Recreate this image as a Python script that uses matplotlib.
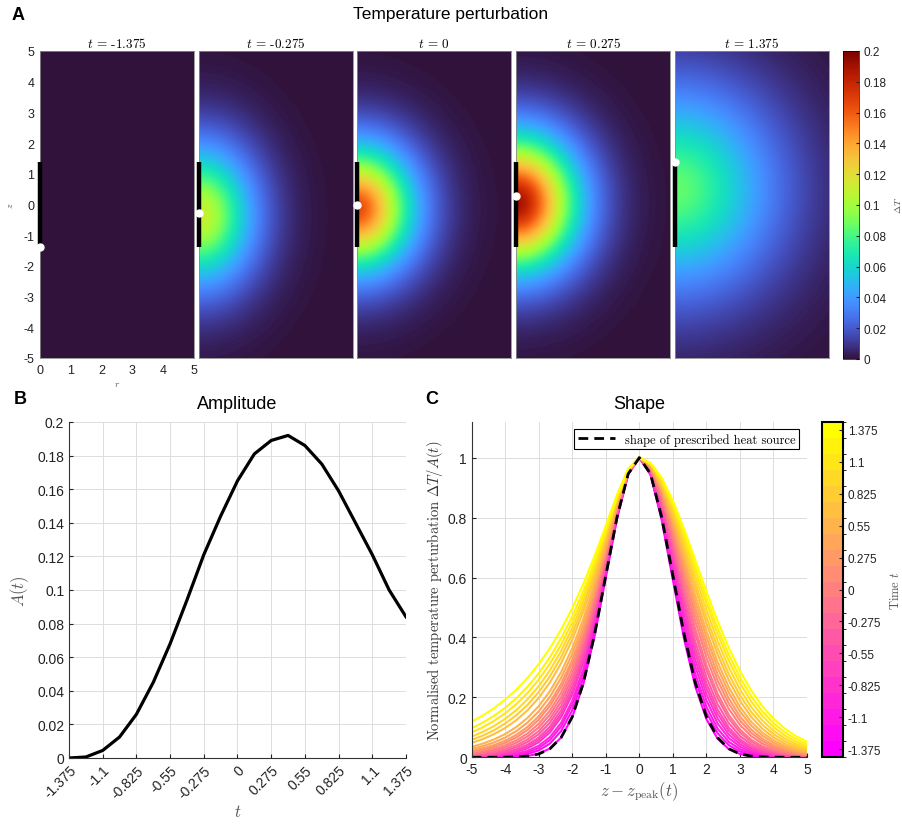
import numpy as np
import matplotlib.pyplot as plt
from matplotlib.colors import ListedColormap, BoundaryNorm
from matplotlib.cm import ScalarMappable

plt.rcParams['font.family'] = ['Liberation Sans', 'DejaVu Sans']
plt.rcParams['mathtext.fontset'] = 'cm'
plt.rcParams['axes.unicode_minus'] = False

W, H = 903, 828

# ---- panel A: snapshots of the field
snap_lbl = ['-1.375', '-0.275', '0', '0.275', '1.375']
snap_src = [-1.375, -0.275, 0.0, 0.275, 1.375]   # white dot, source position
snap_peak = [0.0003, 0.112, 0.165, 0.190, 0.086]
snap_zc = [-1.4, -0.35, -0.13, 0.06, 0.5]
snap_wr = [1.0, 1.72, 1.75, 1.9, 3.1]
snap_wz = [1.2, 2.2, 1.95, 2.1, 3.2]
snap_p = [2.0, 1.8, 1.75, 1.8, 1.8]
src_bot, src_top = -1.375, 1.375

# ---- panel B: amplitude
t = [-1.375, -1.2375, -1.1, -0.9625, -0.825, -0.6875, -0.55, -0.4125, -0.275, -0.1375, 0.0,
     0.1375, 0.275, 0.4125, 0.55, 0.6875, 0.825, 0.9625, 1.1, 1.2375, 1.375]
amp = [0.0, 0.0006, 0.0045, 0.0125, 0.026, 0.045, 0.068, 0.094, 0.121, 0.144, 0.165,
       0.181, 0.189, 0.192, 0.186, 0.175, 0.159, 0.140, 0.121, 0.100, 0.084]
t_ticks = [-1.375, -1.1, -0.825, -0.55, -0.275, 0, 0.275, 0.55, 0.825, 1.1, 1.375]
t_tick_lbl = ['-1.375', '-1.1', '-0.825', '-0.55', '-0.275', '0', '0.275', '0.55', '0.825', '1.1', '1.375']

# ---- panel C: each curve by side: |z| where it drops to 0.8, and its value at |z|=5
core_left = [0.66, 0.66, 0.67, 0.67, 0.68, 0.68, 0.69, 0.69, 0.70, 0.70, 0.71,
             0.72, 0.72, 0.73, 0.74, 0.75, 0.76, 0.77, 0.77, 0.78, 0.79]
tail_left = [0.00001, 0.0002, 0.0005, 0.001, 0.002, 0.003, 0.004, 0.006, 0.008, 0.011, 0.014,
             0.018, 0.022, 0.028, 0.035, 0.048, 0.058, 0.069, 0.083, 0.097, 0.119]
core_right = [0.65, 0.66, 0.67, 0.69, 0.71, 0.73, 0.75, 0.77, 0.80, 0.82, 0.85,
              0.88, 0.91, 0.94, 0.97, 1.01, 1.04, 1.08, 1.12, 1.15, 1.19]
tail_right = [0.00001, 0.0001, 0.0003, 0.0006, 0.001, 0.0015, 0.002, 0.003, 0.004, 0.005, 0.007,
              0.009, 0.011, 0.014, 0.017, 0.021, 0.026, 0.031, 0.037, 0.044, 0.052]
src_sigma = 1.0


def box(x0, y0, x1, y1):
    return [x0 / W, 1 - y1 / H, (x1 - x0) / W, (y1 - y0) / H]


def side(x, z80, tail):
    # gaussian core, exponential-like flank: exp(-b*(sqrt(1+(x/a)^2)-1))
    s2 = (z80 / np.sqrt(2 * np.log(1 / 0.8))) ** 2
    L = np.log(1 / tail)
    if L >= 12.5 / s2:
        return np.exp(-x ** 2 / (2 * s2))
    lo, hi = 1e-3, 1e3
    for _ in range(80):
        a = np.sqrt(lo * hi)
        if 25 * a / (np.sqrt(a * a + 25) + a) / s2 < L:
            lo = a
        else:
            hi = a
    b = a * a / s2
    return np.exp(-b * (np.sqrt(1 + (x / a) ** 2) - 1))


fig = plt.figure(figsize=(W / 100, H / 100), dpi=100)
serif = 'cmr10'
grey = '#555555'

fig.text(18 / W, 1 - 16 / H, 'A', fontsize=13, fontweight='bold', ha='center', va='center')
fig.text(451 / W, 1 - 15 / H, 'Temperature perturbation', fontsize=12.5, ha='center', va='center')

r = np.linspace(0, 5, 251)
z = np.linspace(-5, 5, 501)
R, Z = np.meshgrid(r, z)
x_starts = [40, 198.7, 357.4, 516.1, 674.8]
for i in range(5):
    ax = fig.add_axes(box(x_starts[i], 52, x_starts[i] + 154, 359))
    d = np.sqrt((R / snap_wr[i]) ** 2 + ((Z - snap_zc[i]) / snap_wz[i]) ** 2)
    T = snap_peak[i] * np.exp(-d ** snap_p[i])
    im = ax.imshow(T, extent=[0, 5, -5, 5], origin='lower', aspect='auto',
                   cmap='turbo', vmin=0, vmax=0.2, interpolation='bilinear')
    ax.plot([0, 0], [src_bot, src_top], color='black', lw=3.2, clip_on=False,
            solid_capstyle='butt', zorder=5)
    ax.plot([0], [snap_src[i]], 'o', color='white', ms=5, clip_on=False, zorder=6)
    for s in ax.spines.values():
        s.set_color('#8a8a8a')
        s.set_linewidth(0.6)
    ax.set_title(r'$t$ = ' + snap_lbl[i], fontfamily=serif, fontsize=9.5, pad=3)
    if i == 0:
        ax.set_xticks(range(0, 6))
        ax.set_yticks(range(-5, 6))
        ax.tick_params(length=0, labelsize=9, pad=4, colors='#222222')
        ax.set_xlabel(r'$r$', fontsize=7, color=grey, labelpad=2)
        ax.set_ylabel(r'$z$', fontsize=7, color=grey, labelpad=6)
    else:
        ax.set_xticks([])
        ax.set_yticks([])

cax = fig.add_axes(box(843, 52, 859, 360))
cb = fig.colorbar(im, cax=cax, ticks=np.arange(0, 0.201, 0.02))
cb.ax.set_yticklabels(['0', '0.02', '0.04', '0.06', '0.08', '0.1', '0.12', '0.14', '0.16', '0.18', '0.2'])
cb.ax.tick_params(labelsize=8.5, length=2, direction='in', colors='#222222')
cb.outline.set_linewidth(0.5)
cb.set_label(r'$\Delta T$', fontsize=7, color=grey, labelpad=4)

# ---- B
fig.text(20 / W, 1 - 400 / H, 'B', fontsize=13, fontweight='bold', ha='center', va='center')
axb = fig.add_axes(box(69, 423, 406, 759))
axb.plot(t, amp, color='black', lw=2.3)
axb.set_xlim(-1.375, 1.375)
axb.set_ylim(0, 0.2)
axb.set_xticks(t_ticks)
axb.set_xticklabels(t_tick_lbl, rotation=45, ha='right', rotation_mode='anchor')
axb.set_yticks(np.arange(0, 0.201, 0.02))
axb.set_yticklabels(['0', '0.02', '0.04', '0.06', '0.08', '0.1', '0.12', '0.14', '0.16', '0.18', '0.2'])
axb.grid(True, color='#dddddd', lw=0.7)
axb.set_axisbelow(True)
axb.tick_params(labelsize=10, direction='in', length=3, colors='#222222')
for k in ['top', 'right']:
    axb.spines[k].set_visible(False)
for k in ['left', 'bottom']:
    axb.spines[k].set_color('#333333')
axb.set_title('Amplitude', fontsize=13, pad=10)
axb.set_xlabel(r'$t$', fontsize=12, color=grey, labelpad=2)
axb.set_ylabel(r'$A(t)$', fontsize=12, color=grey, labelpad=4)

# ---- C
fig.text(432 / W, 1 - 400 / H, 'C', fontsize=13, fontweight='bold', ha='center', va='center')
axc = fig.add_axes(box(471.7, 422.7, 807, 758.3))
zz = np.linspace(-5, 5, 31)
colors = plt.cm.spring(np.linspace(0, 1, len(t)))
for i in range(len(t)):
    yy = np.where(zz < 0, side(zz, core_left[i], tail_left[i]),
                  side(zz, core_right[i], tail_right[i]))
    axc.plot(zz, yy, color=colors[i], lw=1.5)
axc.plot(zz, np.exp(-zz ** 2 / (2 * src_sigma ** 2)), color='black', lw=2, ls=(0, (3.5, 2.2)),
         label='shape of prescribed heat source')
axc.set_xlim(-5, 5)
axc.set_ylim(0, 1.12)
axc.set_xticks(range(-5, 6))
axc.set_yticks([0, 0.2, 0.4, 0.6, 0.8, 1])
axc.set_yticklabels(['0', '0.2', '0.4', '0.6', '0.8', '1'])
axc.grid(True, color='#dddddd', lw=0.7)
axc.set_axisbelow(True)
axc.tick_params(labelsize=10, direction='in', length=3, colors='#222222')
for k in ['top', 'right']:
    axc.spines[k].set_visible(False)
for k in ['left', 'bottom']:
    axc.spines[k].set_color('#333333')
axc.set_title('Shape', fontsize=13, pad=10)
axc.set_xlabel(r'$z - z_{\rm peak}(t)$', fontsize=12, color=grey, labelpad=2)
axc.set_ylabel(r'Normalised temperature perturbation $\Delta T/A(t)$', fontfamily=serif,
               fontsize=10.5, color='#333333', labelpad=2)
leg = axc.legend(loc='upper right', fancybox=False, edgecolor='black', framealpha=1,
                 handlelength=3, borderpad=0.3, borderaxespad=0.6,
                 prop={'family': serif, 'size': 9})
leg.get_frame().set_linewidth(0.8)

cmap_c = ListedColormap(colors)
bounds = np.linspace(-1.375 - 0.06875, 1.375 + 0.06875, len(t) + 1)
sm = ScalarMappable(norm=BoundaryNorm(bounds, cmap_c.N), cmap=cmap_c)
caxc = fig.add_axes(box(821.7, 422.7, 842.7, 758.3))
cbc = fig.colorbar(sm, cax=caxc, ticks=t_ticks)
cbc.ax.set_yticklabels(t_tick_lbl)
cbc.ax.tick_params(labelsize=8.5, length=3, direction='in', colors='#222222')
cbc.outline.set_linewidth(1.5)
cbc.set_label(r'Time $t$', fontfamily=serif, fontsize=9, color=grey, labelpad=6)

fig.savefig('out.png', dpi=100)
